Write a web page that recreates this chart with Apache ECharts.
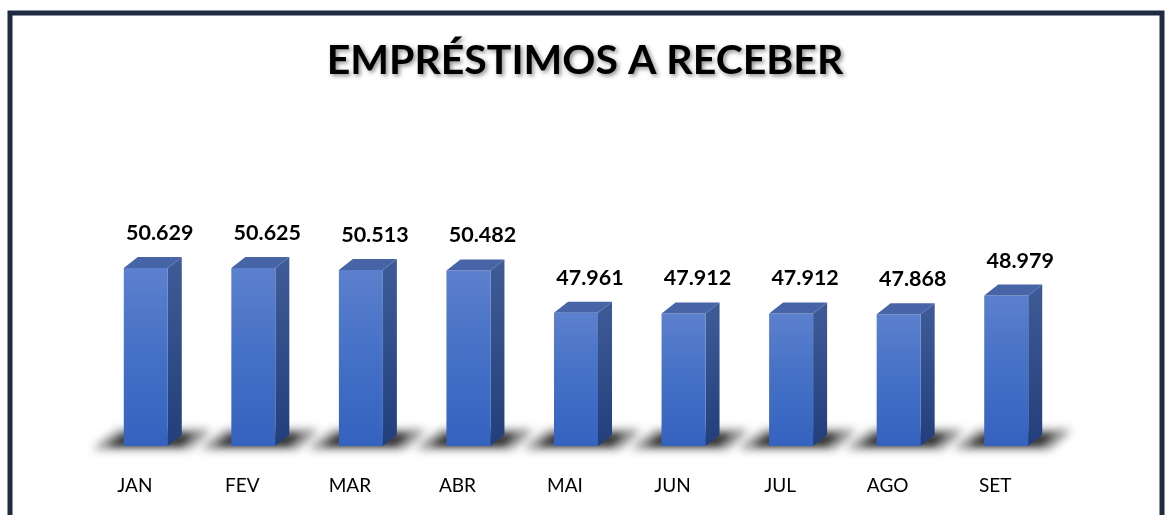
<!DOCTYPE html>
<html lang="pt">
<head>
    <meta charset="UTF-8">
    <title>Empréstimos a receber</title>
    <script src="https://cdn.jsdelivr.net/npm/echarts@6/dist/echarts.min.js"></script>
    <style>
        html, body { margin: 0; padding: 0; background: #fff; }
        #chart { width: 1170px; height: 515px; }
    </style>
</head>
<body>
<div id="chart"></div>
<script type="text/javascript">
    // dados do gráfico
    var meses = ['JAN', 'FEV', 'MAR', 'ABR', 'MAI', 'JUN', 'JUL', 'AGO', 'SET'];
    var valores = [50629, 50625, 50513, 50482, 47961, 47912, 47912, 47868, 48979];
    var eixoMin = 40000;
    var eixoMax = 60000;

    function formatar(n) {
        var s = String(Math.round(n));
        return s.replace(/\B(?=(\d{3})+(?!\d))/g, '.');
    }

    var dados = valores.map(function (v, i) { return [i, v]; });

    // sombra borrada: desenha o poligono fora da tela e so a sombra aparece no lugar
    var DESLOC = 4000;
    function poligonoSombra(pts, blur, cor) {
        return {
            type: 'polygon',
            shape: { points: pts.map(function (p) { return [p[0] - DESLOC, p[1]]; }) },
            style: {
                fill: '#000',
                shadowColor: cor,
                shadowBlur: blur,
                shadowOffsetX: DESLOC,
                shadowOffsetY: 0
            }
        };
    }

    // barra 3D: frente, lateral, topo e sombra no chao
    function desenhaBarra(params, api) {
        var v = api.value(1);
        var topo = api.coord([api.value(0), v]);
        var base = api.coord([api.value(0), eixoMin]);
        var c = topo[0];
        var x0 = c - 11, x1 = c + 33;
        var dx = 14, dy = 11;
        var yT = topo[1], yB = base[1];

        var sombra = [
            poligonoSombra([[c - 16, yB - 16], [c + 76, yB - 16], [c + 54, yB + 3], [c - 42, yB + 3]], 10, 'rgba(0,0,0,0.5)'),
            poligonoSombra([[c - 10, yB - 12], [c + 58, yB - 12], [c + 46, yB], [c - 26, yB]], 6, 'rgba(0,0,0,0.55)')
        ];

        var barra = [
            {
                type: 'polygon',
                shape: { points: [[x1, yT], [x1 + dx, yT - dy], [x1 + dx, yB - dy], [x1, yB]] },
                style: {
                    fill: new echarts.graphic.LinearGradient(0, 0, 0, 1, [
                        { offset: 0, color: '#3f5b98' },
                        { offset: 1, color: '#223f7c' }
                    ])
                }
            },
            {
                type: 'rect',
                shape: { x: x0, y: yT, width: x1 - x0, height: yB - yT },
                style: {
                    fill: new echarts.graphic.LinearGradient(0, 0, 0, 1, [
                        { offset: 0, color: '#5c80cd' },
                        { offset: 0.5, color: '#4470c6' },
                        { offset: 1, color: '#3462bf' }
                    ])
                }
            },
            {
                type: 'polygon',
                shape: { points: [[x0, yT], [x0 + dx, yT - dy], [x1 + dx, yT - dy], [x1, yT]] },
                style: { fill: '#4764a6' }
            },
            {
                type: 'text',
                style: {
                    text: formatar(v),
                    x: c + 25,
                    y: yT - 24,
                    align: 'center',
                    verticalAlign: 'bottom',
                    fontFamily: 'Lato',
                    fontWeight: 'bold',
                    fontSize: 21.5,
                    fill: '#000'
                }
            }
        ];

        return { type: 'group', children: sombra.concat(barra) };
    }

    var myChart = echarts.init(document.getElementById('chart'));
    myChart.setOption({
        animation: false,
        title: {
            text: 'EMPRÉSTIMOS A RECEBER',
            left: 'center',
            top: 35,
            textStyle: {
                fontFamily: 'Lato',
                fontWeight: 'bold',
                fontSize: 41,
                color: '#000',
                textShadowColor: 'rgba(0,0,0,0.45)',
                textShadowBlur: 4,
                textShadowOffsetX: 2,
                textShadowOffsetY: 2
            }
        },
        graphic: [{
            type: 'rect',
            shape: { x: 10, y: 13, width: 1152, height: 600 },
            style: { fill: 'none', stroke: '#1e2b40', lineWidth: 5 },
            z: 10
        }],
        grid: { left: 81, right: 121, top: 111, bottom: 69 },
        xAxis: {
            type: 'category',
            data: meses,
            axisLine: { show: false },
            axisTick: { show: false },
            axisLabel: {
                margin: 30,
                fontFamily: 'Lato',
                fontSize: 19,
                color: '#000'
            }
        },
        yAxis: {
            type: 'value',
            min: eixoMin,
            max: eixoMax,
            show: false,
            splitLine: { show: false }
        },
        series: [{
            type: 'custom',
            renderItem: desenhaBarra,
            encode: { x: 0, y: 1 },
            data: dados
        }]
    });
</script>
</body>
</html>
